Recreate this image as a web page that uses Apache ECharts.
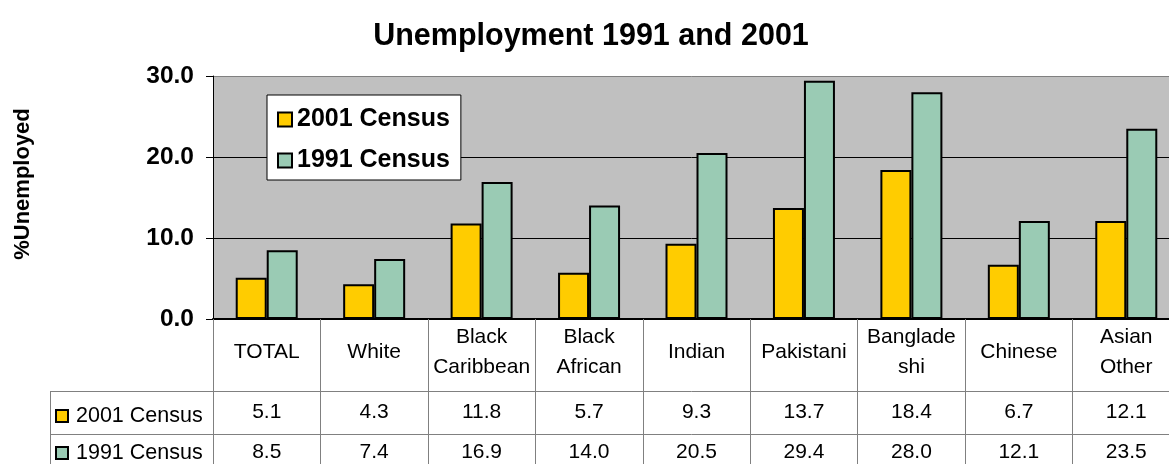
<!DOCTYPE html>
<html>
<head>
<meta charset="utf-8">
<script src="https://cdn.jsdelivr.net/npm/echarts@6/dist/echarts.min.js"></script>
<style>html,body{margin:0;padding:0;background:#fff;}#c{width:1169px;height:464px;}</style>
</head>
<body>
<div id="c"></div>
<script>
const categories = ['TOTAL', 'White', 'Black\nCaribbean', 'Black\nAfrican', 'Indian', 'Pakistani', 'Banglade\nshi', 'Chinese', 'Asian\nOther'];
const census2001 = [5.1, 4.3, 11.8, 5.7, 9.3, 13.7, 18.4, 6.7, 12.1];
const census1991 = [8.5, 7.4, 16.9, 14.0, 20.5, 29.4, 28.0, 12.1, 23.5];
const seriesNames = ['2001 Census', '1991 Census'];
const yTicks = [0, 10, 20, 30];

const FONT = 'Liberation Sans, Arial, sans-serif';
const GL = 213, GT = 76, GW = 967, GH = 243;
const LINE = '#808080';

const chart = echarts.init(document.getElementById('c'));
const rowAxis = (offset, values, margin) => ({
  type: 'category', data: categories, position: 'bottom', offset: offset,
  axisLine: { show: true, lineStyle: { color: LINE, width: 1 } },
  axisTick: { show: false },
  axisLabel: { interval: 0, margin: margin, verticalAlign: 'middle', fontFamily: FONT, fontSize: 21, color: '#000',
    formatter: (v, i) => values[i].toFixed(1) },
  splitLine: { show: false }
});
const rowLegend = (name, top) => ({
  orient: 'horizontal', left: 55, top: top, selectedMode: false,
  padding: 0, itemWidth: 12, itemHeight: 12, icon: 'rect',
  textStyle: { fontFamily: FONT, fontSize: 21.5, color: '#000', padding: [0, 0, 0, 3] },
  data: [name]
});
chart.setOption({
  animation: false,
  title: {
    text: 'Unemployment 1991 and 2001', left: 591, top: 21, textAlign: 'center', padding: 0,
    textStyle: { fontFamily: FONT, fontSize: 30.5, fontWeight: 'bold', color: '#000' }
  },
  legend: [{
    orient: 'vertical', left: 267, top: 95, selectedMode: false,
    backgroundColor: '#fff', borderColor: '#000', borderWidth: 1,
    padding: [12, 11, 7, 10], itemGap: 16, itemWidth: 14, itemHeight: 14, icon: 'rect',
    textStyle: { fontFamily: FONT, fontSize: 25, fontWeight: 'bold', color: '#000', lineHeight: 24 },
    data: seriesNames
  }, rowLegend(seriesNames[0], 405), rowLegend(seriesNames[1], 442)],
  grid: { left: GL, top: GT, width: GW, height: GH, show: true, backgroundColor: '#C0C0C0', borderWidth: 0, outerBoundsMode: 'none', containLabel: false },
  xAxis: [{
    type: 'category', data: categories, position: 'bottom',
    axisLine: { show: true, lineStyle: { color: '#000', width: 2 } },
    axisTick: { show: true, length: 150, lineStyle: { color: LINE, width: 1 } },
    axisLabel: { interval: 0, margin: 33, verticalAlign: 'middle', lineHeight: 30, fontFamily: FONT, fontSize: 21, color: '#000' },
    splitLine: { show: false }
  }, rowAxis(72, census2001, 21), rowAxis(115, census1991, 18)],
  yAxis: {
    type: 'value', min: yTicks[0], max: yTicks[yTicks.length - 1], interval: 10,
    axisLine: { show: true, lineStyle: { color: '#000', width: 1 } },
    axisTick: { show: true, length: 7, lineStyle: { color: '#000' } },
    axisLabel: { margin: 19, fontFamily: FONT, fontSize: 24.5, fontWeight: 'bold', color: '#000', formatter: v => v.toFixed(1) },
    splitLine: { show: true, lineStyle: { color: ['#000', '#000', '#000', LINE], width: 1 } }
  },
  series: [{
    name: seriesNames[0], type: 'bar', data: census2001, barWidth: 31, barGap: '0%',
    itemStyle: { color: '#FFCC00', borderColor: '#000', borderWidth: 2 }
  }, {
    name: seriesNames[1], type: 'bar', data: census1991, barWidth: 31, barGap: '0%',
    itemStyle: { color: '#9ACBB4', borderColor: '#000', borderWidth: 2 }
  }],
  graphic: [
    { type: 'text', x: 23, y: 184, rotation: Math.PI / 2,
      style: { text: '%Unemployed', font: 'bold 22px ' + FONT, fill: '#000', align: 'center', verticalAlign: 'middle' } },
    { type: 'line', shape: { x1: 50, y1: 391.5, x2: GL, y2: 391.5 }, style: { stroke: LINE, lineWidth: 1 } },
    { type: 'line', shape: { x1: 50, y1: 434.5, x2: GL, y2: 434.5 }, style: { stroke: LINE, lineWidth: 1 } },
    { type: 'line', shape: { x1: 50.5, y1: 391, x2: 50.5, y2: 470 }, style: { stroke: LINE, lineWidth: 1 } }
  ]
});
</script>
</body>
</html>
